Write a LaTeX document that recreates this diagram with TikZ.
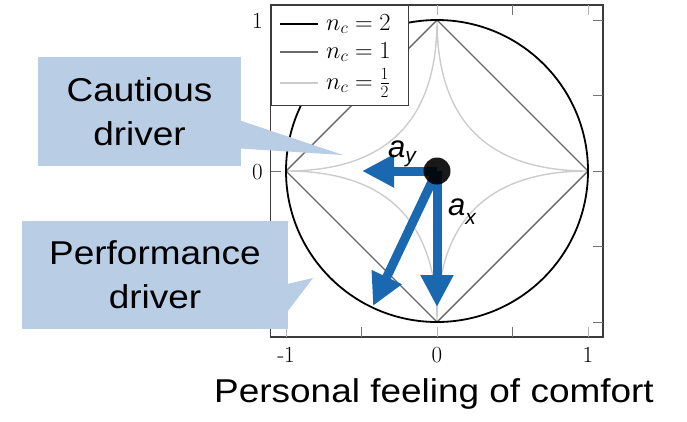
\documentclass[tikz,border=0pt]{standalone}
\usepackage{fix-cm}
\usepackage{fontspec}
\newfontfamily\hv[FakeStretch=1.12]{Liberation Sans}
\newfontfamily\hvsub{Liberation Sans}
\usetikzlibrary{arrows.meta,calc}
\definecolor{calloutfill}{RGB}{185,205,229}
\definecolor{arrowblue}{RGB}{26,104,176}
\definecolor{diamondgray}{RGB}{105,105,105}
\definecolor{astroidgray}{RGB}{204,204,204}
\definecolor{framegray}{RGB}{60,60,60}

\begin{document}
\begin{tikzpicture}[x=1pt,y=-1pt,
  calloutbox/.style={fill=calloutfill, inner sep=0pt, align=center,
    font=\hv\fontsize{33}{44}\selectfont},
  forcearrow/.style={draw=arrowblue, line width=9pt,
    -{Triangle[width=31pt,length=32pt]}},
  ticklabel/.style={font=\fontsize{23}{23}\selectfont, inner sep=0pt},
  legendtext/.style={font=\fontsize{24.5}{24.5}\selectfont, anchor=west, inner sep=0pt},
  majortick/.style={draw=black!30, line width=1pt},
  minortick/.style={draw=black!55, line width=1pt},
  arrowlabel/.style={anchor=base west, inner sep=0pt,
    font=\hvsub\itshape\fontsize{31}{31}\selectfont},
]
\useasboundingbox (0,0) rectangle (687,421);

% unit circle, diamond and astroid in data coordinates
\begin{scope}[shift={(437,171)}, x=151pt, y=151pt]
  \draw[astroidgray, line width=1.4pt]
    plot[domain=0:360, samples=241]
      ({cos(\x)*cos(\x)*cos(\x)*abs(cos(\x))},{sin(\x)*sin(\x)*sin(\x)*abs(sin(\x))}) -- cycle;
  \draw[diamondgray, line width=1.4pt] (-1,0) -- (0,1) -- (1,0) -- (0,-1) -- cycle;
  \draw[black, line width=1.8pt] (0,0) circle[radius=1];
\end{scope}

% axis frame and ticks
\draw[framegray, line width=1.2pt] (270.5,5) rectangle (603,337);
\foreach \px in {286,437,588}{
  \draw[majortick] (\px,337) -- (\px,327);
  \draw[majortick] (\px,5) -- (\px,15);
}
\foreach \px in {361.5,512.5}{
  \draw[minortick] (\px,337) -- (\px,327);
  \draw[minortick] (\px,5) -- (\px,15);
}
\foreach \py in {20,95.5,171,246.5,322}{
  \draw[minortick] (270.5,\py) -- (280.5,\py);
  \draw[minortick] (603,\py) -- (593,\py);
}

% tick labels
\node[ticklabel, anchor=base] (xm1) at (286,362) {-1};
\node[ticklabel, anchor=base] (x0) at (437,362) {0};
\node[ticklabel, anchor=base] (x1) at (588,362) {1};
\node[ticklabel, anchor=east] (y0) at (263,172) {0};
\node[ticklabel, anchor=east] (y1) at (263,21) {1};

% legend
\node[draw=framegray, fill=white, line width=1pt, anchor=north west, inner sep=0pt,
  minimum width=137pt, minimum height=100pt] (legend) at (270.5,5) {};
\draw[black, line width=1.8pt] (280,24) -- (318,24);
\node[legendtext] (lega) at (326,24) {$n_c = 2$};
\draw[diamondgray, line width=1.4pt] (280,52) -- (318,52);
\node[legendtext] (legb) at (326,52) {$n_c = 1$};
\draw[astroidgray, line width=1.4pt] (280,83) -- (318,83);
\node[legendtext] (legc) at (326,83) {$n_c = \frac{1}{2}$};

% callouts
\node[calloutbox, minimum width=203pt, minimum height=109pt] (cautious)
  at (139.5,111.5) {Cautious\\driver};
\coordinate (cautioustip) at (343,155);
\fill[calloutfill] ($(cautious.east)+(-1,9)$) -- (cautioustip)
  -- ($(cautious.east)+(-1,37)$) -- cycle;

\node[calloutbox, minimum width=266pt, minimum height=108pt] (performance)
  at (155,275) {Performance\\driver};
\coordinate (performancetip) at (313,278);
\fill[calloutfill] ($(performance.east)+(-1,9)$) -- (performancetip)
  -- ($(performance.east)+(-1,37)$) -- cycle;

% acceleration vectors
\coordinate (cg) at (437,171);
\coordinate (aytip) at (362,171);
\coordinate (axtip) at (437,307);
\coordinate (adtip) at (373,306);
\draw[forcearrow] (cg) -- (aytip);
\draw[forcearrow] (cg) -- (axtip);
\draw[forcearrow] (cg) -- (adtip);
\node[circle, fill=black, fill opacity=0.9, minimum size=27pt, inner sep=0pt]
  (mass) at (cg) {};

\node[arrowlabel] (aylabel) at (388,157) {a\raisebox{-5pt}{\fontsize{21}{21}\selectfont y}};
\node[arrowlabel] (axlabel) at (448,215) {a\raisebox{-9pt}{\fontsize{21}{21}\selectfont x}};

% axis title
\node[anchor=base, inner sep=0pt, font=\hv\fontsize{33}{33}\selectfont] (xlabel)
  at (434,402) {Personal feeling of comfort};
\end{tikzpicture}
\end{document}
